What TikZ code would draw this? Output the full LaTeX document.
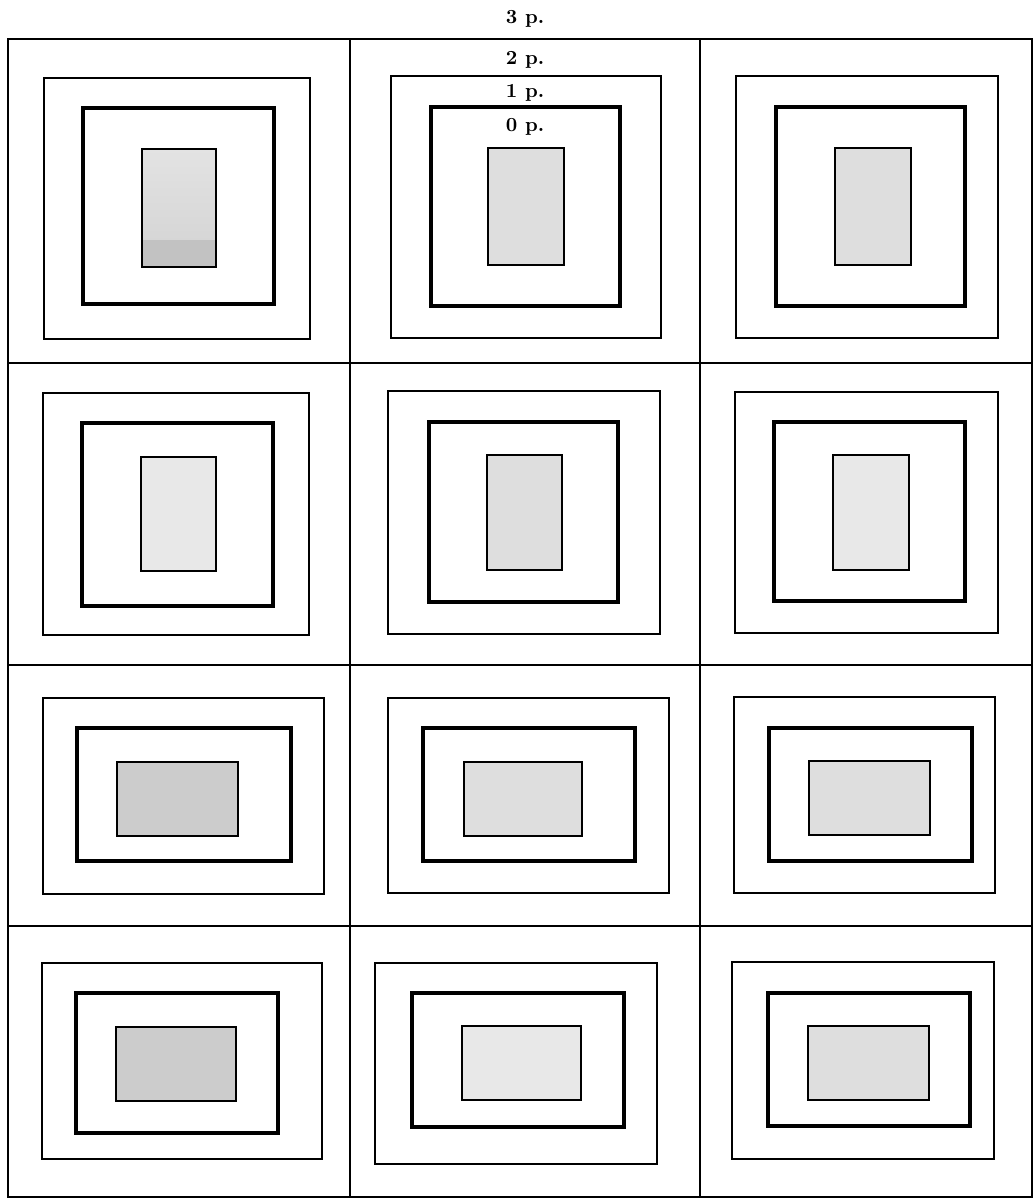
\documentclass[tikz,border=0pt]{standalone}
\begin{document}
\begin{tikzpicture}[x=0.5pt,y=-0.5pt,
  gridline/.style={line width=1.1pt},
  frameA/.style={line width=1pt},
  frameB/.style={line width=2.2pt},
  core/.style={line width=1.2pt, fill=gray!26},
  coredark/.style={line width=1.2pt, fill=gray!40},
  corelight/.style={line width=1.2pt, fill=gray!18},
  lbl/.style={font=\bfseries\fontsize{10}{12}\selectfont, anchor=base, inner sep=0pt}]
\useasboundingbox (0,0) rectangle (1033,1200);
% grid
\draw[gridline] (8,39) rectangle (1032,1197);
\draw[gridline] (8,363) -- (1032,363);
\draw[gridline] (8,665) -- (1032,665);
\draw[gridline] (8,926) -- (1032,926);
\draw[gridline] (350,39) -- (350,1197);
\draw[gridline] (700,39) -- (700,1197);
% labels
\node[lbl] (p3) at (525,23) {3 p.};
\node[lbl] (p2) at (525,64) {2 p.};
\node[lbl] (p1) at (525,97) {1 p.};
\node[lbl] (p0) at (525,131) {0 p.};
% row 1
\draw[frameA] (44,78) rectangle (310,339);
\draw[frameB] (83,108) rectangle (274,304);
\shade[top color=gray!22, bottom color=gray!32] (142,149) rectangle (216,240);
\fill[gray!48] (142,240) rectangle (216,267);
\draw[line width=1.2pt] (142,149) rectangle (216,267);
\draw[frameA] (391,76) rectangle (661,338);
\draw[frameB] (431,107) rectangle (620,306);
\draw[core] (488,148) rectangle (564,265);
\draw[frameA] (736,76) rectangle (998,338);
\draw[frameB] (776,107) rectangle (965,306);
\draw[core] (835,148) rectangle (911,265);
% row 2
\draw[frameA] (43,393) rectangle (309,635);
\draw[frameB] (82,423) rectangle (273,606);
\draw[corelight] (141,457) rectangle (216,571);
\draw[frameA] (388,391) rectangle (660,634);
\draw[frameB] (429,422) rectangle (618,602);
\draw[core] (487,455) rectangle (562,570);
\draw[frameA] (735,392) rectangle (998,633);
\draw[frameB] (774,422) rectangle (965,601);
\draw[corelight] (833,455) rectangle (909,570);
% row 3
\draw[frameA] (43,698) rectangle (324,894);
\draw[frameB] (77,728) rectangle (291,861);
\draw[coredark] (117,762) rectangle (238,836);
\draw[frameA] (388,698) rectangle (669,893);
\draw[frameB] (423,728) rectangle (635,861);
\draw[core] (464,762) rectangle (582,836);
\draw[frameA] (734,697) rectangle (995,893);
\draw[frameB] (769,728) rectangle (972,861);
\draw[core] (809,761) rectangle (930,835);
% row 4
\draw[frameA] (42,963) rectangle (322,1159);
\draw[frameB] (76,993) rectangle (278,1133);
\draw[coredark] (116,1027) rectangle (236,1101);
\draw[frameA] (375,963) rectangle (657,1164);
\draw[frameB] (412,993) rectangle (624,1127);
\draw[corelight] (462,1026) rectangle (581,1100);
\draw[frameA] (732,962) rectangle (994,1159);
\draw[frameB] (768,993) rectangle (970,1126);
\draw[core] (808,1026) rectangle (929,1100);
\end{tikzpicture}
\end{document}
